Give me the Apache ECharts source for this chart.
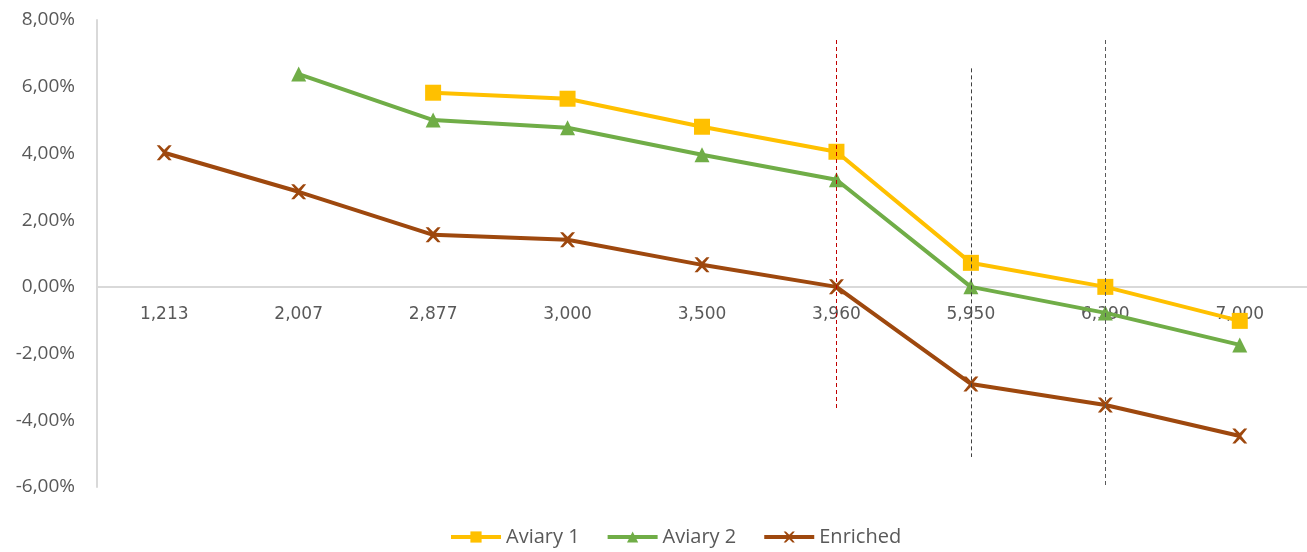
<!DOCTYPE html>
<html>
<head>
<meta charset="utf-8">
<script src="https://cdn.jsdelivr.net/npm/echarts@6/dist/echarts.min.js"></script>
<style>
  html, body { margin: 0; padding: 0; background: #fff; }
  #chart { width: 1307px; height: 552px; }
</style>
</head>
<body>
<div id="chart"></div>
<script>
// x categories and series values (in %)
const categories = ['1,213', '2,007', '2,877', '3,000', '3,500', '3,960', '5,950', '6,390', '7,000']
const aviary1 = [null, null, 5.82, 5.64, 4.80, 4.05, 0.72, 0.00, -1.02]
const aviary2 = [null, 6.38, 5.00, 4.77, 3.96, 3.21, 0.00, -0.78, -1.74]
const enriched = [4.02, 2.85, 1.56, 1.41, 0.66, 0.00, -2.91, -3.54, -4.47]
// dashed annotation lines: [category, top value, bottom value, colour]
const guideLines = [
  ['3,960', 7.4, -3.7, '#c00000'],
  ['5,950', 6.55, -5.1, '#404040'],
  ['6,390', 7.4, -5.95, '#595959']
]

const crossPath = 'path://M0,0 L2,0 L5,3 L8,0 L10,0 L6,5 L10,10 L8,10 L5,7 L2,10 L0,10 L4,5 Z'

const myChart = echarts.init(document.getElementById('chart'))

const option = {
  animation: false,
  grid: {
    left: 97,
    top: 20,
    width: 1212,
    bottom: 65,
    containLabel: false
  },
  legend: {
    bottom: 0,
    left: 444,
    itemWidth: 50,
    itemHeight: 14,
    itemGap: 26,
    lineStyle: { width: 4 },
    textStyle: { fontSize: 20, color: '#595959', fontFamily: 'Open Sans' },
    data: ['Aviary 1', 'Aviary 2', 'Enriched']
  },
  xAxis: {
    type: 'category',
    data: categories,
    axisLine: { onZero: true, lineStyle: { color: '#d9d9d9', width: 2 } },
    axisTick: { show: false },
    // labels sit just under the zero line, as in the original
    axisLabel: { color: '#595959', fontSize: 17, margin: -181, fontFamily: 'DejaVu Sans' },
    splitLine: { show: false }
  },
  yAxis: {
    type: 'value',
    min: -6,
    max: 8,
    interval: 2,
    axisLine: { show: true, onZero: false, lineStyle: { color: '#d9d9d9', width: 2 } },
    axisTick: { show: false },
    splitLine: { show: false },
    axisLabel: {
      color: '#595959',
      fontSize: 19,
      margin: 22,
      fontFamily: 'Open Sans',
      formatter: v => v.toFixed(2).replace('.', ',') + '%'
    }
  },
  series: [
    {
      name: 'Aviary 1',
      type: 'line',
      data: aviary1,
      symbol: 'rect',
      symbolSize: 16,
      connectNulls: false,
      lineStyle: { color: '#ffc000', width: 4 },
      itemStyle: { color: '#ffc000' },
      z: 4
    },
    {
      name: 'Aviary 2',
      type: 'line',
      data: aviary2,
      symbol: 'triangle',
      symbolSize: 15,
      lineStyle: { color: '#70ad47', width: 4 },
      itemStyle: { color: '#70ad47' },
      z: 3
    },
    {
      name: 'Enriched',
      type: 'line',
      data: enriched,
      symbol: crossPath,
      symbolSize: 15,
      lineStyle: { color: '#9e480e', width: 4 },
      itemStyle: { color: '#9e480e' },
      z: 2,
      markLine: {
        silent: true,
        symbol: 'none',
        label: { show: false },
        z: 5,
        data: guideLines.map(g => [
          { coord: [g[0], g[1]], lineStyle: { color: g[3], type: [4, 3], width: 1 } },
          { coord: [g[0], g[2]] }
        ])
      }
    }
  ]
}

myChart.setOption(option)
window.addEventListener('resize', myChart.resize)
</script>
</body>
</html>
